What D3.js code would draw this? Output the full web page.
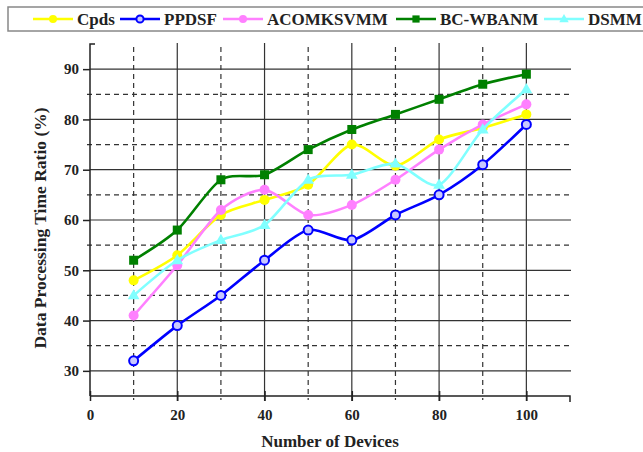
<!DOCTYPE html>
<html>
<head>
<meta charset="utf-8">
<script src="https://cdn.jsdelivr.net/npm/d3@7"></script>
<style>
  body { margin: 0; background: #fff; }
  svg { display: block; }
  text { font-family: "Liberation Serif", "Times New Roman", serif; font-weight: bold; }
</style>
</head>
<body>
<svg id="chart" width="643" height="452"></svg>
<script>
// data
var devices = [10, 20, 30, 40, 50, 60, 70, 80, 90, 100];
var cpds    = [48, 53, 61, 64, 67, 75, 70.8, 76, 78.3, 81];
var ppdsf   = [32, 39, 45, 52, 58, 56, 61, 65, 71, 79];
var acom    = [41, 51, 62, 66, 61, 63, 68, 74, 79, 83];
var bcwbanm = [52, 58, 68, 69, 74, 78, 81, 84, 87, 89];
var dsmm    = [45, 52, 56, 59, 68, 69, 71.2, 67, 78, 86];

var xTicks = [0, 20, 40, 60, 80, 100];
var xMinor = [10, 30, 50, 70, 90];
var yTicks = [30, 40, 50, 60, 70, 80, 90];
var yMinor = [35, 45, 55, 65, 75, 85];

var series = [
  {name: "Cpds",      values: cpds,    color: "#ffff00", marker: "circle"},
  {name: "PPDSF",     values: ppdsf,   color: "#0000ff", marker: "open"},
  {name: "ACOMKSVMM", values: acom,    color: "#ff80ff", marker: "circle"},
  {name: "BC-WBANM",  values: bcwbanm, color: "#008000", marker: "square"},
  {name: "DSMM",      values: dsmm,    color: "#80ffff", marker: "triangle"}
];

var svg = d3.select("#chart");
var plotLeft = 90, plotRight = 570, plotTop = 44, plotBottom = 396;

var x = d3.scaleLinear().domain([0, 110]).range([plotLeft, plotRight]);
var y = d3.scaleLinear().domain([25, 95]).range([plotBottom, plotTop]);

var gridColor = "#333";

// horizontal grid
svg.append("g")
   .selectAll("line")
   .data(yTicks)
   .enter()
   .append("line")
   .attr("x1", plotLeft).attr("x2", plotRight + 1)
   .attr("y1", function(d) { return y(d); })
   .attr("y2", function(d) { return y(d); })
   .attr("stroke", gridColor).attr("stroke-width", 1.2);

svg.append("g")
   .selectAll("line")
   .data(yMinor)
   .enter()
   .append("line")
   .attr("x1", plotLeft - 3).attr("x2", plotRight)
   .attr("y1", function(d) { return y(d); })
   .attr("y2", function(d) { return y(d); })
   .attr("stroke", gridColor).attr("stroke-width", 1.2)
   .attr("stroke-dasharray", "5,4");

// vertical grid
svg.append("g")
   .selectAll("line")
   .data(xTicks.slice(1))
   .enter()
   .append("line")
   .attr("x1", function(d) { return x(d); })
   .attr("x2", function(d) { return x(d); })
   .attr("y1", plotTop - 1).attr("y2", plotBottom + 5)
   .attr("stroke", gridColor).attr("stroke-width", 1.2);

svg.append("g")
   .selectAll("line")
   .data(xMinor)
   .enter()
   .append("line")
   .attr("x1", function(d) { return x(d); })
   .attr("x2", function(d) { return x(d); })
   .attr("y1", plotTop + 3).attr("y2", plotBottom + 4)
   .attr("stroke", gridColor).attr("stroke-width", 1.2)
   .attr("stroke-dasharray", "5,4");

// axes
var xAxis = d3.axisBottom(x).tickValues(xTicks).tickSize(5).tickPadding(8)
              .tickFormat(d3.format("d"));
var gx = svg.append("g")
   .attr("transform", "translate(0," + plotBottom + ")")
   .call(xAxis);
gx.select(".domain").attr("d", "M" + plotLeft + ",0H" + plotRight + "V6")
  .attr("stroke", "#222").attr("stroke-width", 1.5);
gx.selectAll(".tick line").attr("y1", -5).attr("stroke", "#222").attr("stroke-width", 1.5);
gx.selectAll(".tick text").attr("font-size", 15).attr("font-family", "Liberation Serif")
  .attr("font-weight", "bold").attr("fill", "#222");

var yAxis = d3.axisLeft(y).tickValues(yTicks).tickSize(7).tickPadding(4)
              .tickFormat(d3.format("d"));
var gy = svg.append("g")
   .attr("transform", "translate(" + plotLeft + ",0)")
   .call(yAxis);
gy.select(".domain").attr("d", "M0," + plotBottom + "V" + plotTop + "H5")
  .attr("stroke", "#222").attr("stroke-width", 1.5);
gy.selectAll(".tick line").attr("stroke", "#222").attr("stroke-width", 1.5);
gy.selectAll(".tick text").attr("font-size", 15).attr("font-family", "Liberation Serif")
  .attr("font-weight", "bold").attr("fill", "#222");

// axis titles
svg.append("text")
   .attr("x", (plotLeft + plotRight) / 2).attr("y", 447)
   .attr("text-anchor", "middle")
   .attr("font-size", 17).attr("fill", "#222")
   .text("Number of Devices");

svg.append("text")
   .attr("transform", "translate(46,228) rotate(-90)")
   .attr("text-anchor", "middle")
   .attr("font-size", 17.5).attr("fill", "#222")
   .text("Data Processing Time Ratio (%)");

// markers, k scales the size (legend uses smaller ones)
function drawMarker(g, kind, color, cx, cy, k) {
    k = k || 1;
    if (kind == "circle") {
        g.append("circle").attr("cx", cx).attr("cy", cy).attr("r", 5 * k)
         .attr("fill", color);
    } else if (kind == "open") {
        g.append("circle").attr("cx", cx).attr("cy", cy).attr("r", 4.5 * k)
         .attr("fill", "#c8c8ff").attr("stroke", color).attr("stroke-width", 2);
    } else if (kind == "square") {
        g.append("rect").attr("x", cx - 4.5 * k).attr("y", cy - 4.5 * k)
         .attr("width", 9 * k).attr("height", 9 * k).attr("fill", color);
    } else if (kind == "triangle") {
        g.append("path")
         .attr("d", d3.symbol().type(d3.symbolTriangle).size(60 * k * k)())
         .attr("transform", "translate(" + cx + "," + (cy + 0.5) + ")")
         .attr("fill", color);
    }
}

var line = d3.line()
    .x(function(d) { return x(d[0]); })
    .y(function(d) { return y(d[1]); })
    .curve(d3.curveCardinal.tension(0.2));

series.forEach(function(s) {
    var pts = devices.map(function(d, i) { return [d, s.values[i]]; });
    var g = svg.append("g");
    g.append("path")
     .attr("d", line(pts))
     .attr("fill", "none")
     .attr("stroke", s.color)
     .attr("stroke-width", 2.6);
    pts.forEach(function(p) {
        drawMarker(g, s.marker, s.color, x(p[0]), y(p[1]));
    });
});

// legend
var legend = svg.append("g");
legend.append("rect")
      .attr("x", 8).attr("y", 7).attr("width", 640).attr("height", 24)
      .attr("fill", "#fff").attr("stroke", "#888").attr("stroke-width", 1.5);

var legendX = [33, 120, 223, 396, 544];
series.forEach(function(s, i) {
    var lx = legendX[i], ly = 19;
    legend.append("line")
          .attr("x1", lx).attr("x2", lx + 40)
          .attr("y1", ly).attr("y2", ly)
          .attr("stroke", s.color).attr("stroke-width", 2.5);
    drawMarker(legend, s.marker, s.color, lx + 20, ly, 0.8);
    legend.append("text")
          .attr("x", lx + 44).attr("y", ly + 6)
          .attr("font-size", 17).attr("fill", "#222")
          .text(s.name);
});
</script>
</body>
</html>
